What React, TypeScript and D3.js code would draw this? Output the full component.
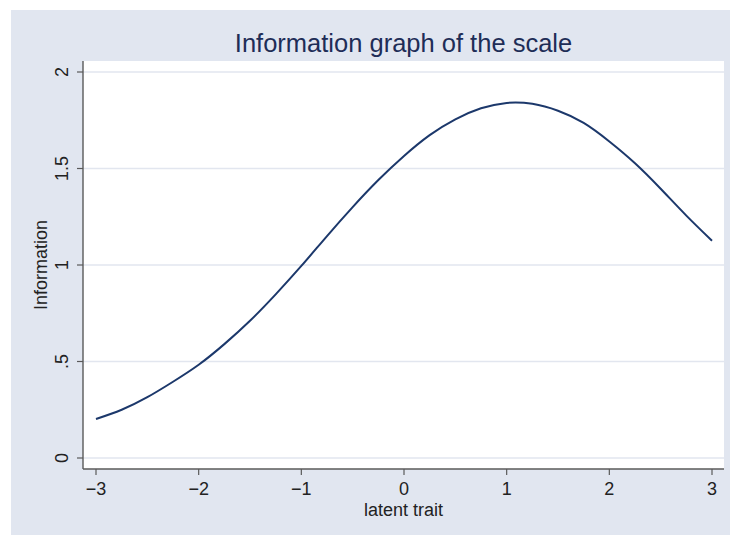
import React from "react";
import * as d3 from "d3";

const theta = [-3, -2.75, -2.5, -2.25, -2, -1.75, -1.5, -1.25, -1, -0.75, -0.5, -0.25, 0, 0.25, 0.5, 0.75, 1, 1.25, 1.5, 1.75, 2, 2.25, 2.5, 2.75, 3];
const information = [0.202, 0.25, 0.315, 0.395, 0.483, 0.59, 0.711, 0.848, 0.995, 1.15, 1.3, 1.44, 1.565, 1.673, 1.755, 1.812, 1.84, 1.835, 1.799, 1.736, 1.64, 1.527, 1.395, 1.256, 1.126];
const xTicks = [-3, -2, -1, 0, 1, 2, 3];
const yTicks = [0, 0.5, 1, 1.5, 2];
const yTickLabels = ["0", ".5", "1", "1.5", "2"];
const titleText = "Information graph of the scale";
const xTitle = "latent trait";
const yTitle = "Information";

export default function App() {
  const W = 730, H = 535;
  const plot = { left: 83, right: 724, top: 61, bottom: 469 };
  const x = d3.scaleLinear().domain([-3, 3]).range([96, 712]);
  const y = d3.scaleLinear().domain([0, 2]).range([458, 72]);
  const pts = theta.map((t, i) => [t, information[i]] as [number, number]);
  const line = d3.line<[number, number]>().x(d => x(d[0])).y(d => y(d[1])).curve(d3.curveNatural);
  const font = "'Liberation Sans', Arial, Helvetica, sans-serif";
  const axisColor = "#5a5a5a";
  const fmtMinus = (v: number) => (v < 0 ? "\u2212" + Math.abs(v) : String(v));
  return (
    <svg width={W} height={H} style={{ position: "absolute", left: 0, top: 0 }} fontFamily={font}>
      <rect x={0} y={0} width={W} height={H} fill="#ffffff" />
      <rect x={11} y={10} width={W - 11} height={H - 10} fill="#e1e6f0" />
      <rect x={plot.left} y={plot.top} width={plot.right - plot.left} height={plot.bottom - plot.top} fill="#ffffff" />
      {yTicks.map(v => (
        <line key={"g" + v} x1={plot.left} x2={plot.right} y1={y(v)} y2={y(v)} stroke="#e2e6ef" strokeWidth={1.6} />
      ))}
      <path d={line(pts) || ""} fill="none" stroke="#1c386b" strokeWidth={2} />
      <line x1={plot.left} x2={plot.left} y1={plot.top} y2={plot.bottom} stroke={axisColor} strokeWidth={1.4} />
      <line x1={plot.left} x2={plot.right} y1={plot.bottom} y2={plot.bottom} stroke={axisColor} strokeWidth={1.4} />
      {yTicks.map((v, i) => (
        <g key={"yt" + v}>
          <line x1={plot.left - 6} x2={plot.left} y1={y(v)} y2={y(v)} stroke={axisColor} strokeWidth={1.2} />
          <text transform={`translate(${68},${y(v)}) rotate(-90)`} textAnchor="middle" fontSize={18} fill="#222">
            {yTickLabels[i]}
          </text>
        </g>
      ))}
      {xTicks.map(v => (
        <g key={"xt" + v}>
          <line x1={x(v)} x2={x(v)} y1={plot.bottom} y2={plot.bottom + 6} stroke={axisColor} strokeWidth={1.2} />
          <text x={x(v)} y={495} textAnchor="middle" fontSize={18} fill="#222">
            {fmtMinus(v)}
          </text>
        </g>
      ))}
      <text x={(plot.left + plot.right) / 2} y={516} textAnchor="middle" fontSize={18} fill="#222">{xTitle}</text>
      <text transform={`translate(${47},${y(1)}) rotate(-90)`} textAnchor="middle" fontSize={18} fill="#222">{yTitle}</text>
      <text x={(plot.left + plot.right) / 2} y={52} textAnchor="middle" fontSize={25.5} fill="#1e2d57">{titleText}</text>
    </svg>
  );
}
